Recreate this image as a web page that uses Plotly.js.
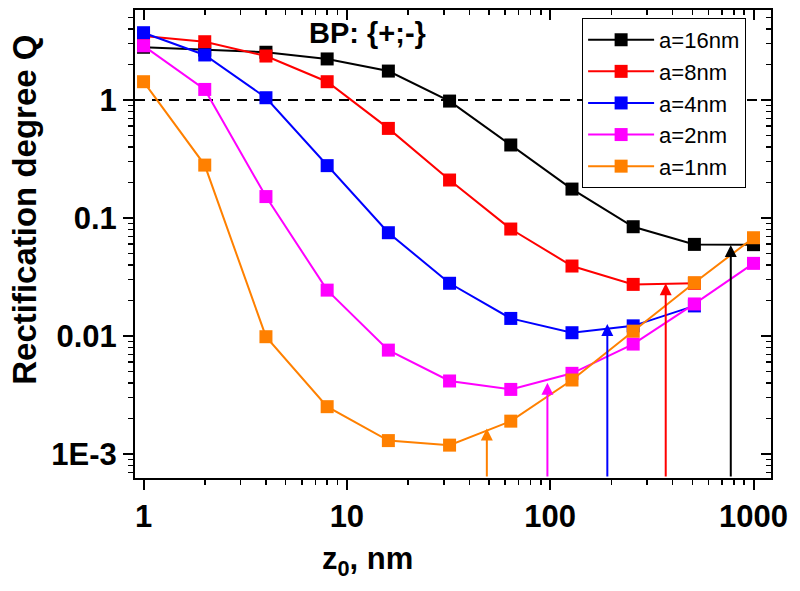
<!DOCTYPE html>
<html>
<head>
<meta charset="utf-8">
<script src="https://cdn.plot.ly/plotly-3.0.1.min.js"></script>
<style>html,body{margin:0;padding:0;background:#fff;}#chart{width:800px;height:591px;}</style>
</head>
<body>
<div id="chart"></div>
<script>
// z0 in nm
const z = [1, 2, 4, 8, 16, 32, 64, 128, 256, 512, 1000];
// Rectification degree Q per particle size a
const q16 = [2.80, 2.65, 2.54, 2.23, 1.76, 0.98, 0.416, 0.176, 0.0844, 0.0598, 0.0595];
const q8  = [3.49, 3.12, 2.36, 1.43, 0.575, 0.21, 0.0807, 0.0392, 0.0274, 0.028];
const q4  = [3.72, 2.41, 1.046, 0.278, 0.0751, 0.0280, 0.0141, 0.01067, 0.0122, 0.0180];
const q2  = [2.88, 1.23, 0.152, 0.0245, 0.0076, 0.00416, 0.00353, 0.00483, 0.00855, 0.0187, 0.0413];
const q1  = [1.43, 0.281, 0.00987, 0.00252, 0.0013, 0.00119, 0.00190, 0.00424, 0.0110, 0.0283, 0.0681];
const seriesNames = ['a=16nm', 'a=8nm', 'a=4nm', 'a=2nm', 'a=1nm'];
const seriesData = [q16, q8, q4, q2, q1];
const seriesColors = ['#000000', '#ff0000', '#0000ff', '#ff00ff', '#ff8000'];
// arrows (critical z0) per series: a=1,2,4,8,16 nm
const arrowZ = [48.8, 96.9, 191, 370, 773];
const arrowQ = [0.00165, 0.00402, 0.01264, 0.0280, 0.0590];
const arrowColors = ['#ff8000', '#ff00ff', '#0000ff', '#ff0000', '#000000'];
const xTickVals = [1, 10, 100, 1000];
const xTickText = ['1', '10', '100', '1000'];
const yTickVals = [0.001, 0.01, 0.1, 1];
const yTickText = ['1E-3', '0.01', '0.1', '1'];

const FONT = 'Liberation Sans, Arial, sans-serif';
const xRange = [-0.042, 3.086];
const yRange = [-3.203, 0.763];

const traces = seriesData.map((q, i) => ({
  x: z.slice(0, q.length),
  y: q,
  name: seriesNames[i],
  type: 'scatter',
  mode: 'lines+markers',
  line: {color: seriesColors[i], width: 2},
  marker: {symbol: 'square', size: 13, color: seriesColors[i]}
}));
traces.push({x: [], y: [], xaxis: 'x2', yaxis: 'y2', showlegend: false, hoverinfo: 'skip'});

const annotations = arrowZ.map((zz, i) => ({
  x: Math.log10(zz), y: Math.log10(arrowQ[i]),
  ax: Math.log10(zz), ay: yRange[0],
  xref: 'x', yref: 'y', axref: 'x', ayref: 'y',
  text: '', showarrow: true, arrowhead: 2, arrowsize: 1.2, arrowwidth: 2,
  arrowcolor: arrowColors[i], standoff: 0, startstandoff: 0
}));
annotations.push({
  text: 'BP: {+;-}', xref: 'paper', yref: 'paper', x: 0.365, y: 0.951,
  showarrow: false, xanchor: 'center', yanchor: 'middle',
  font: {family: FONT, size: 29, color: '#000', weight: 'bold'}
});
annotations.push({
  text: 'Rectification degree Q', xref: 'paper', yref: 'paper', x: -0.173, y: 0.573,
  textangle: -90, showarrow: false, xanchor: 'center', yanchor: 'middle',
  font: {family: FONT, size: 33, color: '#000', weight: 'bold'}
});
annotations.push({
  text: 'z<sub>0</sub>, nm', xref: 'paper', yref: 'paper', x: 0.365, y: -0.178,
  showarrow: false, xanchor: 'center', yanchor: 'middle',
  font: {family: FONT, size: 31, color: '#000', weight: 'bold'}
});

const axisCommon = {
  type: 'log', showgrid: false, zeroline: false,
  showline: true, linecolor: '#000', linewidth: 2,
  ticks: 'outside', ticklen: 10, tickwidth: 2, tickcolor: '#000',
  tickmode: 'array',
  tickfont: {family: FONT, size: 31, color: '#000', weight: 'bold'},
  minor: {dtick: 'D1', ticks: 'outside', ticklen: 5, tickwidth: 1.5, tickcolor: '#000', showgrid: false}
};

const layout = {
  width: 800, height: 591,
  margin: {l: 135, r: 29, t: 10, b: 113},
  paper_bgcolor: '#fff', plot_bgcolor: '#fff',
  font: {family: FONT, color: '#000'},
  showlegend: true,
  legend: {
    x: 0.703, y: 0.983, xanchor: 'left', yanchor: 'top',
    bgcolor: '#fff', bordercolor: '#000', borderwidth: 1,
    font: {family: FONT, size: 22, color: '#000'},
    itemwidth: 66, tracegroupgap: 0
  },
  xaxis: Object.assign({}, axisCommon, {range: xRange, tickvals: xTickVals, ticktext: xTickText, mirror: true}),
  yaxis: Object.assign({}, axisCommon, {range: yRange, tickvals: yTickVals, ticktext: yTickText, mirror: true}),
  xaxis2: {type: 'log', range: xRange, overlaying: 'x', side: 'top', anchor: 'y2',
    showgrid: false, zeroline: false, showline: false, showticklabels: false,
    ticks: 'inside', ticklen: 10, tickwidth: 2, tickcolor: '#000', tickmode: 'array', tickvals: xTickVals,
    minor: {dtick: 'D1', ticks: 'inside', ticklen: 5, tickwidth: 1.5, tickcolor: '#000', showgrid: false}},
  yaxis2: {type: 'log', range: yRange, overlaying: 'y', side: 'right', anchor: 'x2',
    showgrid: false, zeroline: false, showline: false, showticklabels: false,
    ticks: 'inside', ticklen: 10, tickwidth: 2, tickcolor: '#000', tickmode: 'array', tickvals: yTickVals,
    minor: {dtick: 'D1', ticks: 'inside', ticklen: 5, tickwidth: 1.5, tickcolor: '#000', showgrid: false}},
  shapes: [{
    type: 'line', xref: 'paper', x0: 0, x1: 1, yref: 'y', y0: 1, y1: 1,
    line: {color: '#000', width: 2, dash: '10px,7px'}, layer: 'below'
  }],
  annotations: annotations
};

Plotly.newPlot('chart', traces, layout, {staticPlot: true, displayModeBar: false});
</script>
</body>
</html>
